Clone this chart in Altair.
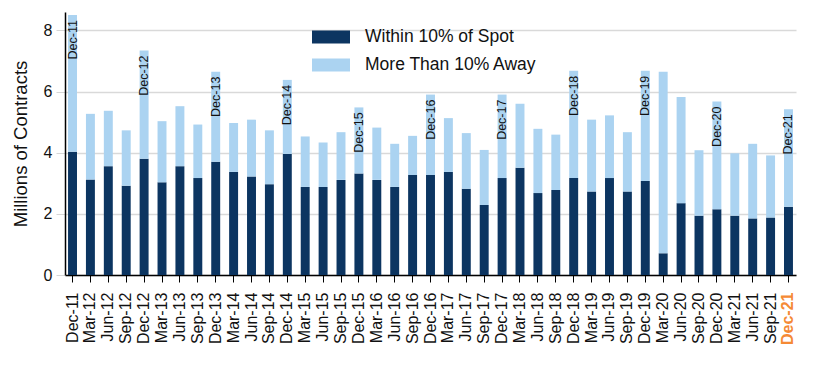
import altair as alt
import pandas as pd

quarters = [
    "Dec-11", "Mar-12", "Jun-12", "Sep-12", "Dec-12", "Mar-13", "Jun-13", "Sep-13",
    "Dec-13", "Mar-14", "Jun-14", "Sep-14", "Dec-14", "Mar-15", "Jun-15", "Sep-15",
    "Dec-15", "Mar-16", "Jun-16", "Sep-16", "Dec-16", "Mar-17", "Jun-17", "Sep-17",
    "Dec-17", "Mar-18", "Jun-18", "Sep-18", "Dec-18", "Mar-19", "Jun-19", "Sep-19",
    "Dec-19", "Mar-20", "Jun-20", "Sep-20", "Dec-20", "Mar-21", "Jun-21", "Sep-21",
    "Dec-21",
]
within_10pct = [
    4.03, 3.12, 3.56, 2.92, 3.80, 3.03, 3.56, 3.17,
    3.70, 3.37, 3.22, 2.97, 3.96, 2.88, 2.88, 3.11,
    3.32, 3.11, 2.88, 3.27, 3.27, 3.37, 2.82, 2.29,
    3.17, 3.51, 2.68, 2.78, 3.17, 2.73, 3.17, 2.73,
    3.07, 0.71, 2.35, 1.94, 2.15, 1.94, 1.85, 1.88,
    2.23,
]
more_than_10pct = [
    4.47, 2.15, 1.81, 1.81, 3.54, 2.00, 1.96, 1.75,
    2.95, 1.60, 1.86, 1.76, 2.42, 1.65, 1.45, 1.56,
    2.16, 1.71, 1.41, 1.28, 2.63, 1.76, 1.82, 1.80,
    2.73, 2.09, 2.10, 1.81, 3.51, 2.35, 2.05, 1.94,
    3.61, 5.94, 3.47, 2.14, 3.52, 2.04, 2.44, 2.03,
    3.19,
]
series_names = ["Within 10% of Spot", "More Than 10% Away"]
y_ticks = [0, 2, 4, 6, 8]

DARK = "#0c3561"
LIGHT = "#abd3f1"
ORANGE = "#f58a35"
FONT = "Liberation Sans"

rows = []
for i, q in enumerate(quarters):
    rows.append({"quarter": q, "series": series_names[0], "value": within_10pct[i], "ord": 0})
    rows.append({"quarter": q, "series": series_names[1], "value": more_than_10pct[i], "ord": 1})
df = pd.DataFrame(rows)

ann = pd.DataFrame({
    "quarter": quarters,
    "total": [w + m for w, m in zip(within_10pct, more_than_10pct)],
})
ann = ann[ann["quarter"].str.startswith("Dec")]

x_enc = alt.X(
    "quarter:N",
    sort=quarters,
    title=None,
    scale=alt.Scale(paddingInner=0.5, paddingOuter=0.17),
    axis=alt.Axis(
        labelAngle=270,
        labelAlign="right",
        labelBaseline="middle",
        labelFontSize=16,
        labelFont=FONT,
        labelColor={"expr": f"datum.value === 'Dec-21' ? '{ORANGE}' : '#111111'"},
        labelFontWeight={"expr": "datum.value === 'Dec-21' ? 'bold' : 'normal'"},
        labelPadding=10,
        tickSize=7,
        tickColor="#000000",
        domainColor="#000000",
        domainWidth=1.5,
        grid=False,
        labelOverlap=False,
    ),
)

bars = alt.Chart(df).mark_bar().encode(
    x=x_enc,
    y=alt.Y(
        "value:Q",
        stack="zero",
        title="Millions of Contracts",
        scale=alt.Scale(domain=[0, 8.6], nice=False),
        axis=alt.Axis(
            values=y_ticks,
            labelFontSize=16,
            labelFont=FONT,
            labelColor="#111111",
            titleFontSize=18.5,
            titleFont=FONT,
            titleFontWeight="normal",
            titleColor="#111111",
            titlePadding=13,
            tickSize=9,
            tickColor="#d6d6d6",
            labelPadding=4,
            domainColor="#000000",
            domainWidth=1.5,
            grid=True,
            gridColor="#d9d9d9",
            gridWidth=1.5,
        ),
    ),
    color=alt.Color(
        "series:N",
        scale=alt.Scale(domain=series_names, range=[DARK, LIGHT]),
        legend=alt.Legend(
            title=None,
            orient="none",
            legendX=247,
            legendY=6,
            padding=0,
            symbolType="M-1,-0.34L1,-0.34L1,0.34L-1,0.34Z",
            symbolSize=1444,
            symbolStrokeWidth=0,
            symbolOpacity=1,
            labelFontSize=17.5,
            labelFont=FONT,
            labelColor="#111111",
            labelOffset=15,
            labelLimit=400,
            rowPadding=0,
        ),
    ),
    order=alt.Order("ord:Q", sort="ascending"),
)

labels = alt.Chart(ann).mark_text(
    angle=270,
    align="right",
    baseline="middle",
    dx=-5,
    fontSize=12.5,
    font=FONT,
    color="#111111",
).encode(
    x=alt.X("quarter:N", sort=quarters),
    y=alt.Y("total:Q"),
    text="quarter:N",
)

chart = (
    alt.layer(bars, labels)
    .properties(
        width=731,
        height=263,
        autosize=alt.AutoSizeParams(type="none"),
        padding={"left": 57, "top": 4, "right": 11, "bottom": 88},
    )
    .configure_view(stroke=None)
)

chart.save("out.html", embed_options={"renderer": "svg", "actions": False})
